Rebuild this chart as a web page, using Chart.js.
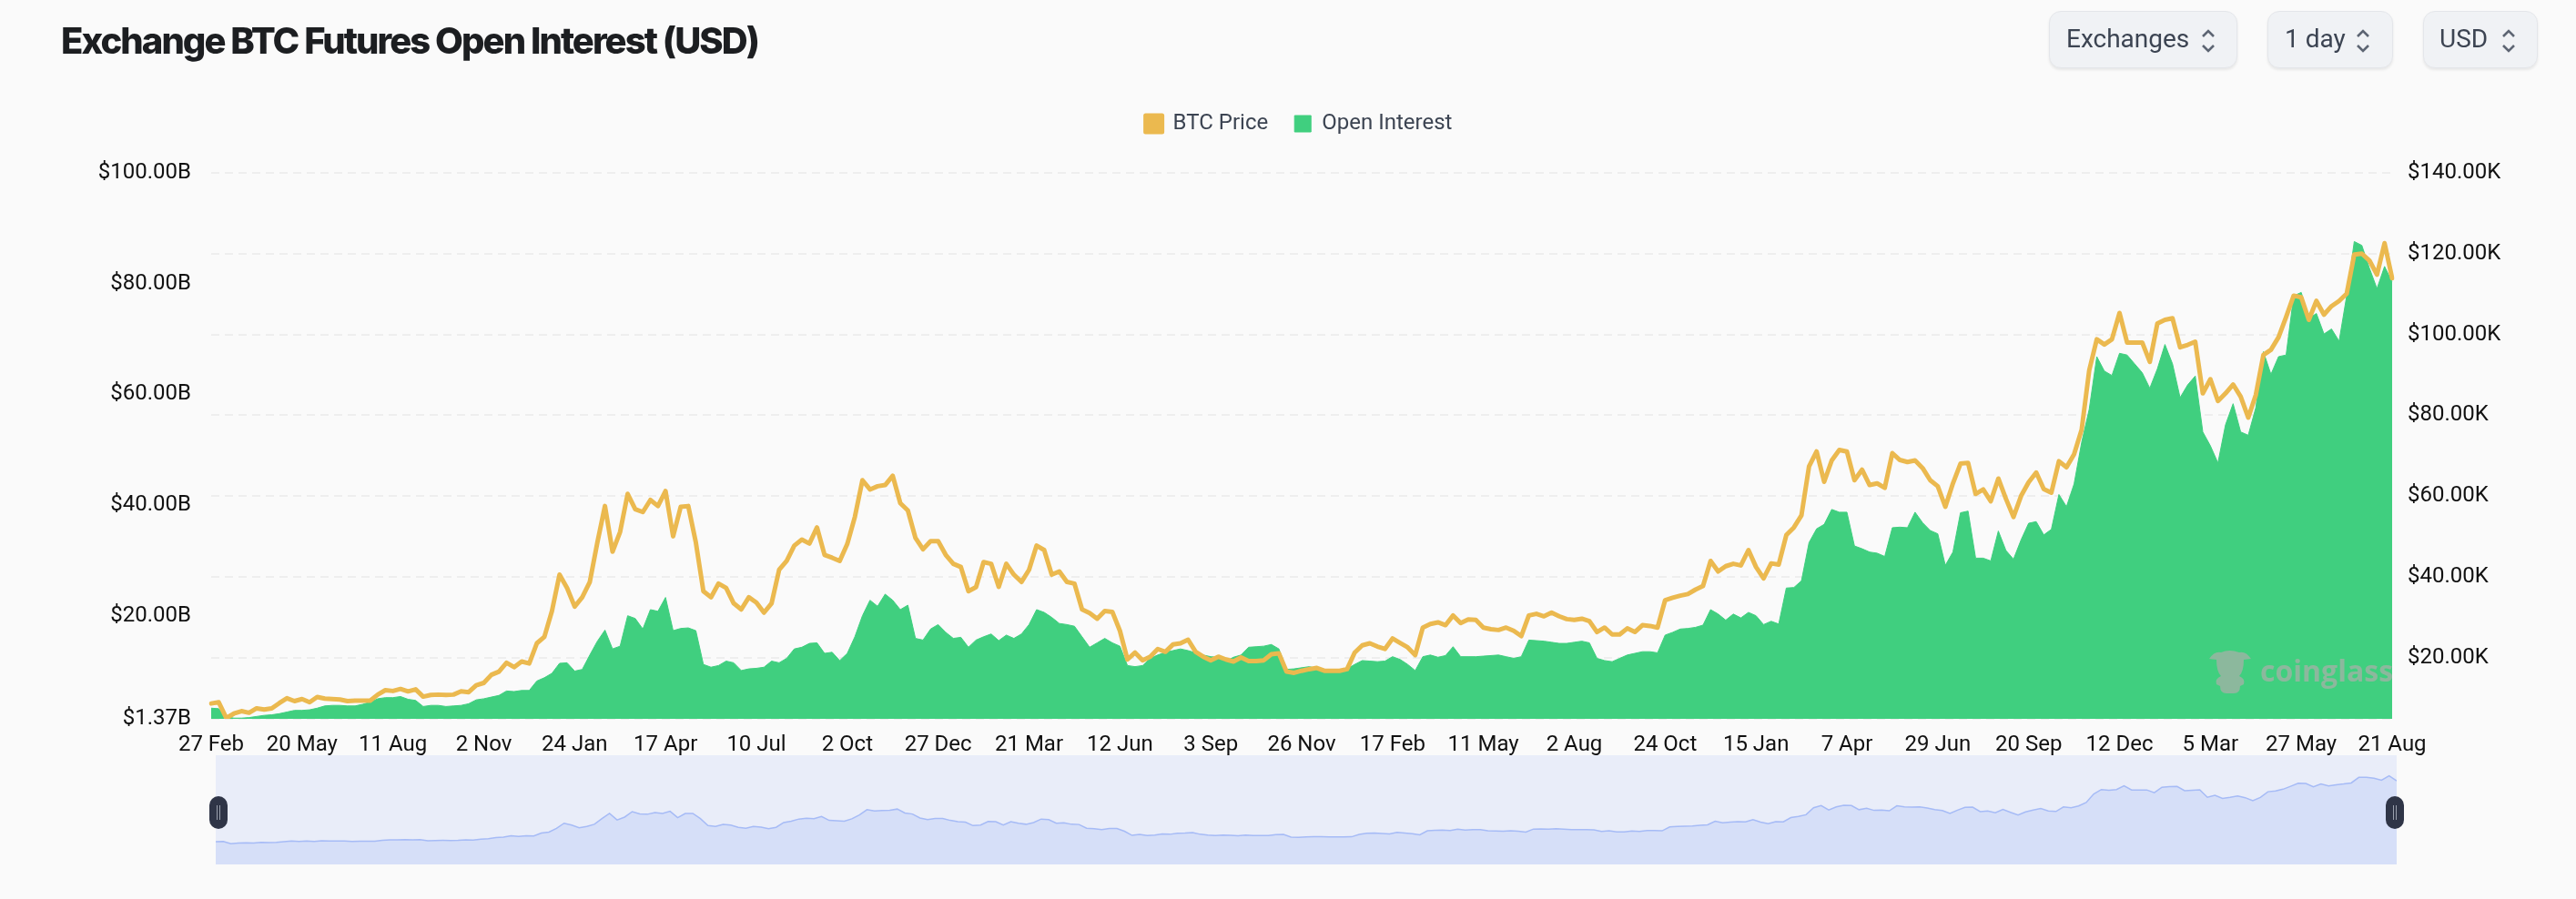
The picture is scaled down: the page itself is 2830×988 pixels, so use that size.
<!DOCTYPE html>
<html>
<head>
<meta charset="utf-8">
<title>Exchange BTC Futures Open Interest (USD)</title>
<script src="https://cdn.jsdelivr.net/npm/chart.js@4"></script>
<style>
  html, body { margin: 0; padding: 0; background: #fafafa; }
  #page { position: relative; width: 2830px; height: 988px; overflow: hidden; background: #fafafa; font-family: Roboto, sans-serif; }
  #mainChart { position: absolute; left: 0; top: 0; }
  #title { position: absolute; left: 67px; top: 20px; font: 800 40px Inter, sans-serif; letter-spacing: -1.95px; color: #1c1e21; white-space: nowrap; }
  .select { position: absolute; top: 12px; height: 61px; box-sizing: content-box; background: #f0f2f5; border: 1px solid #e4e6ea; border-radius: 13px; box-shadow: 0 2px 3px rgba(0,0,0,.08); color: #3c4452; font-size: 28px; line-height: 60px; }
  .select span { position: absolute; top: 0; white-space: nowrap; }
  .select svg { position: absolute; top: 18px; width: 16px; height: 28px; }
  #navWrap { position: absolute; left: 237px; top: 830px; width: 2396px; height: 120px; background: #e9edf9; }
  .handle { position: absolute; top: 875px; width: 20px; height: 36px; border-radius: 10px; background: #2f3547; }
  .handle i { position: absolute; top: 10px; width: 1px; height: 16px; background: #9aa0ad; }
  #mark { position: absolute; left: 2483px; top: 715px; font: 700 32px "Open Sans", sans-serif; color: #8cb89d; }
  #bull { position: absolute; left: 2427px; top: 712px; }
</style>
</head>
<body>
<div id="page">
  <canvas id="mainChart" width="2830" height="988"></canvas>
  <div id="title">Exchange BTC Futures Open Interest (USD)</div>

  <div class="select" style="left:2251px;width:205px"><span style="left:18px">Exchanges</span><svg style="left:166px" viewBox="0 0 16 28"><path d="M2 9l6-6 6 6M2 19l6 6 6-6" fill="none" stroke="#5d6573" stroke-width="2.6"/></svg></div>
  <div class="select" style="left:2491px;width:136px"><span style="left:18px">1 day</span><svg style="left:96px" viewBox="0 0 16 28"><path d="M2 9l6-6 6 6M2 19l6 6 6-6" fill="none" stroke="#5d6573" stroke-width="2.6"/></svg></div>
  <div class="select" style="left:2662px;width:124px"><span style="left:17px">USD</span><svg style="left:85px" viewBox="0 0 16 28"><path d="M2 9l6-6 6 6M2 19l6 6 6-6" fill="none" stroke="#5d6573" stroke-width="2.6"/></svg></div>

  <svg id="bull" width="46" height="52" viewBox="0 0 46 52">
    <path d="M0 12 Q6 3 13 5 Q22 1 33 5 Q40 3 46 12 L38 13 Q38 26 33 31 Q40 34 38 40 L34 42 Q34 50 27 50 L19 50 Q12 50 12 42 L8 40 Q6 34 13 31 Q8 26 8 13 Z" fill="#8cb89d"/>
  </svg>
  <div id="mark">coinglass</div>

  <div id="navWrap"><canvas id="navChart" width="2396" height="120"></canvas></div>
  <div class="handle" style="left:230px"><i style="left:8px"></i><i style="left:11px"></i></div>
  <div class="handle" style="left:2621px"><i style="left:8px"></i><i style="left:11px"></i></div>
</div>

<script>
// tick labels along the bottom, one every 12 samples
const tickLabels = ['27 Feb', '20 May', '11 Aug', '2 Nov', '24 Jan', '17 Apr', '10 Jul', '2 Oct', '27 Dec', '21 Mar', '12 Jun', '3 Sep', '26 Nov',
  '17 Feb', '11 May', '2 Aug', '24 Oct', '15 Jan', '7 Apr', '29 Jun', '20 Sep', '12 Dec', '5 Mar', '27 May', '21 Aug'];

// BTC price in thousands of USD
const btcPrice = [
  8.6, 8.9, 5.0, 6.1, 6.7, 6.3, 7.4, 7.1, 7.4, 8.7, 9.9, 9.2,
  9.7, 8.9, 10.2, 9.8, 9.7, 9.6, 9.2, 9.3, 9.3, 9.3, 10.8, 11.9,
  11.7, 12.2, 11.6, 12.1, 10.3, 10.7, 10.8, 10.7, 10.8, 11.6, 11.4, 13.1,
  13.7, 15.7, 16.5, 18.7, 17.6, 19.0, 18.5, 23.5, 25.1, 31.5, 40.5, 37.2,
  32.6, 34.9, 38.7, 48.5, 57.5, 46.2, 51.1, 60.5, 56.7, 56.0, 59.0, 57.5,
  61.2, 50.0, 57.3, 57.5, 48.5, 36.4, 34.9, 38.3, 37.2, 33.4, 31.9, 34.9,
  33.6, 31.1, 33.4, 41.7, 43.9, 47.7, 49.2, 48.2, 52.2, 45.4, 44.7, 43.9,
  48.1, 54.8, 63.9, 61.6, 62.4, 62.7, 65.0, 58.2, 56.4, 49.6, 46.8, 48.8,
  48.8, 45.4, 43.2, 42.4, 36.4, 37.4, 43.6, 43.2, 37.5, 43.2, 40.5, 38.7,
  41.7, 47.7, 46.6, 40.5, 41.3, 38.7, 38.3, 31.9, 31.0, 29.6, 31.5, 31.3,
  26.6, 19.5, 21.2, 19.3, 20.2, 22.1, 21.4, 23.2, 23.5, 24.4, 21.4, 20.2,
  19.3, 20.2, 19.5, 19.0, 20.0, 19.1, 19.1, 19.3, 20.8, 21.0, 16.5, 16.2,
  16.7, 17.1, 17.4, 16.7, 16.7, 16.7, 17.1, 21.2, 23.0, 23.5, 22.7, 22.1,
  24.7, 23.6, 22.5, 20.6, 27.4, 28.3, 28.7, 28.0, 30.4, 28.5, 29.4, 29.3,
  27.4, 27.0, 26.8, 27.4, 26.6, 25.3, 30.4, 30.8, 30.2, 31.1, 30.2, 29.5,
  29.3, 29.6, 29.0, 26.3, 27.4, 25.7, 25.7, 27.2, 26.3, 28.0, 27.8, 27.4,
  34.2, 34.8, 35.3, 35.7, 36.8, 37.7, 43.9, 41.3, 42.6, 43.2, 42.8, 46.6,
  42.4, 39.6, 43.3, 43.0, 50.3, 52.2, 55.2, 67.3, 71.0, 63.5, 68.8, 71.4,
  71.0, 63.9, 66.5, 62.7, 63.1, 62.0, 70.6, 68.9, 68.4, 68.8, 66.9, 63.9,
  62.4, 57.3, 63.1, 68.0, 68.2, 60.5, 61.6, 58.7, 64.3, 59.3, 54.8, 60.0,
  63.4, 65.8, 61.7, 60.8, 68.6, 67.1, 70.3, 76.4, 91.1, 98.8, 97.5, 98.8,
  105.3, 98.0, 98.0, 98.0, 93.2, 102.7, 103.6, 104.0, 96.8, 97.4, 98.2, 85.4,
  88.9, 83.5, 85.4, 87.6, 84.6, 79.4, 85.0, 94.9, 96.2, 99.3, 104.3, 109.6,
  109.2, 103.6, 108.3, 104.9, 107.0, 108.3, 110.1, 119.8, 120.0, 118.3, 114.8, 122.6, 113.9
];

// open interest in billions of USD
const openInterest = [
  3.3, 3.2, 1.8, 1.5, 1.5, 1.6, 1.8, 2.0, 2.1, 2.3, 2.6, 2.9,
  2.9, 3.0, 3.3, 3.7, 3.8, 3.8, 3.7, 3.7, 4.0, 4.4, 5.0, 5.2,
  5.2, 5.4, 4.9, 4.7, 3.6, 3.8, 3.8, 3.6, 3.7, 3.8, 4.1, 4.8,
  5.0, 5.3, 5.6, 6.4, 6.3, 6.5, 6.5, 8.2, 8.8, 9.6, 11.4, 11.5,
  10.0, 10.3, 12.9, 15.4, 17.4, 14.0, 14.5, 20.0, 19.5, 17.6, 21.1, 20.8,
  23.3, 17.3, 17.7, 17.8, 17.3, 11.2, 10.7, 11.0, 11.8, 11.5, 10.1, 10.4,
  10.5, 10.7, 11.8, 11.5, 12.3, 14.0, 14.3, 15.0, 15.1, 13.2, 13.4, 11.9,
  13.2, 16.2, 20.0, 22.8, 21.7, 23.9, 22.8, 21.1, 21.9, 15.9, 15.6, 17.6,
  18.4, 17.0, 15.9, 16.1, 14.3, 15.6, 16.2, 16.7, 15.5, 16.5, 15.9, 16.7,
  18.4, 21.1, 20.6, 19.7, 18.6, 18.4, 18.1, 16.2, 14.3, 15.1, 15.9, 15.1,
  14.5, 11.0, 10.8, 11.0, 12.3, 12.9, 13.4, 13.7, 14.0, 13.7, 13.3, 12.9,
  12.6, 12.5, 11.8, 12.5, 12.9, 14.3, 14.4, 14.5, 14.8, 14.0, 10.3, 10.4,
  10.6, 10.8, 10.5, 10.3, 10.3, 10.3, 10.4, 11.2, 11.9, 11.8, 11.7, 11.8,
  12.6, 12.1, 11.2, 10.1, 12.6, 12.9, 12.5, 12.8, 14.4, 12.6, 12.6, 12.6,
  12.7, 12.8, 12.9, 12.6, 12.3, 12.6, 15.6, 15.5, 15.4, 15.2, 15.0, 15.0,
  15.2, 15.4, 15.1, 12.3, 11.9, 11.7, 12.3, 12.9, 13.2, 13.5, 13.5, 13.3,
  16.5, 17.0, 17.6, 17.7, 17.9, 18.3, 21.1, 20.3, 19.2, 20.3, 19.6, 20.6,
  20.0, 18.4, 19.0, 18.5, 25.0, 25.1, 26.3, 33.2, 35.7, 36.5, 39.2, 38.7,
  38.7, 32.6, 32.1, 31.5, 31.3, 30.7, 35.9, 36.0, 35.9, 38.7, 36.8, 35.4,
  34.8, 29.1, 31.5, 38.6, 38.9, 30.4, 30.4, 29.9, 35.3, 31.8, 30.2, 33.7,
  36.7, 37.0, 34.6, 35.6, 41.9, 39.7, 43.8, 51.3, 57.3, 66.8, 64.2, 63.4,
  67.4, 67.1, 65.5, 63.9, 61.1, 64.6, 69.0, 65.5, 59.4, 61.7, 63.3, 53.2,
  50.7, 47.6, 54.5, 58.3, 53.2, 52.6, 57.6, 67.7, 63.6, 66.8, 67.1, 77.8,
  78.4, 73.7, 74.6, 70.9, 71.8, 69.6, 77.8, 87.6, 86.9, 82.8, 79.1, 83.1, 80.3
];

const oiTicks = [1.37, 20, 40, 60, 80, 100];
const priceTicks = [4.8, 20, 40, 60, 80, 100, 120, 140];

const ORANGE = '#ebb94f';
const GREEN = '#40cf7f';
const LABEL_FONT = { family: 'Roboto, sans-serif', size: 24 };

const categories = btcPrice.map((v, i) => (i % 12 === 0 ? tickLabels[i / 12] : ''));

// pushes the plot down from the legend, the way the page has it
const legendGap = {
  id: 'legendGap',
  beforeInit(chart) {
    const fit = chart.legend.fit;
    chart.legend.fit = function () {
      fit.call(this);
      this.height += 32;
    };
  }
};

new Chart(document.getElementById('mainChart'), {
  type: 'line',
  data: {
    labels: categories,
    datasets: [
      {
        label: 'BTC Price',
        data: btcPrice,
        yAxisID: 'yPrice',
        borderColor: ORANGE,
        backgroundColor: ORANGE,
        borderWidth: 5,
        borderJoinStyle: 'round',
        borderCapStyle: 'round',
        pointRadius: 0,
        fill: false
      },
      {
        label: 'Open Interest',
        data: openInterest,
        yAxisID: 'yOi',
        borderColor: GREEN,
        backgroundColor: GREEN,
        borderWidth: 1,
        pointRadius: 0,
        fill: 'start'
      }
    ]
  },
  options: {
    responsive: false,
    animation: false,
    layout: { padding: { left: 24, top: 95, right: 0, bottom: 158 } },
    plugins: {
      tooltip: { enabled: false },
      legend: {
        position: 'top',
        labels: { boxWidth: 18, boxHeight: 18, padding: 29, color: '#3c4452', font: LABEL_FONT }
      }
    },
    scales: {
      x: {
        grid: { display: false },
        border: { display: false },
        afterFit: scale => { scale.height = 40; },
        ticks: {
          autoSkip: false, maxRotation: 0, minRotation: 0, padding: 7,
          color: '#111', font: LABEL_FONT
        }
      },
      yOi: {
        position: 'left',
        min: oiTicks[0],
        max: 100,
        grid: { display: false, drawTicks: false },
        border: { display: false },
        afterFit: scale => { scale.width = 208; },
        afterBuildTicks: axis => { axis.ticks = oiTicks.map(value => ({ value })); },
        ticks: {
          padding: 22, color: '#111', font: LABEL_FONT,
          callback: v => '$' + v.toFixed(2) + 'B'
        }
      },
      yPrice: {
        position: 'right',
        min: priceTicks[0],
        max: 140,
        grid: { color: '#eeeeee', lineWidth: 2, drawTicks: false },
        border: { display: false, dash: [9, 6] },
        afterFit: scale => { scale.width = 202; },
        afterBuildTicks: axis => { axis.ticks = priceTicks.map(value => ({ value })); },
        ticks: {
          padding: 17, color: '#111', font: LABEL_FONT,
          callback: v => (v === priceTicks[0] ? '' : '$' + v.toFixed(2) + 'K')
        }
      }
    }
  },
  plugins: [legendGap]
});

// --- range slider strip under the chart ---
new Chart(document.getElementById('navChart'), {
  type: 'line',
  data: {
    labels: categories,
    datasets: [{
      data: btcPrice,
      borderColor: '#a6bbf6',
      backgroundColor: '#d6dff8',
      borderWidth: 1.5,
      pointRadius: 0,
      fill: 'start'
    }]
  },
  options: {
    responsive: false,
    animation: false,
    layout: { padding: 0 },
    plugins: { legend: { display: false }, tooltip: { enabled: false } },
    scales: {
      x: { display: false },
      y: { display: false, min: -30.7, max: 158 }
    }
  }
});
</script>
</body>
</html>
